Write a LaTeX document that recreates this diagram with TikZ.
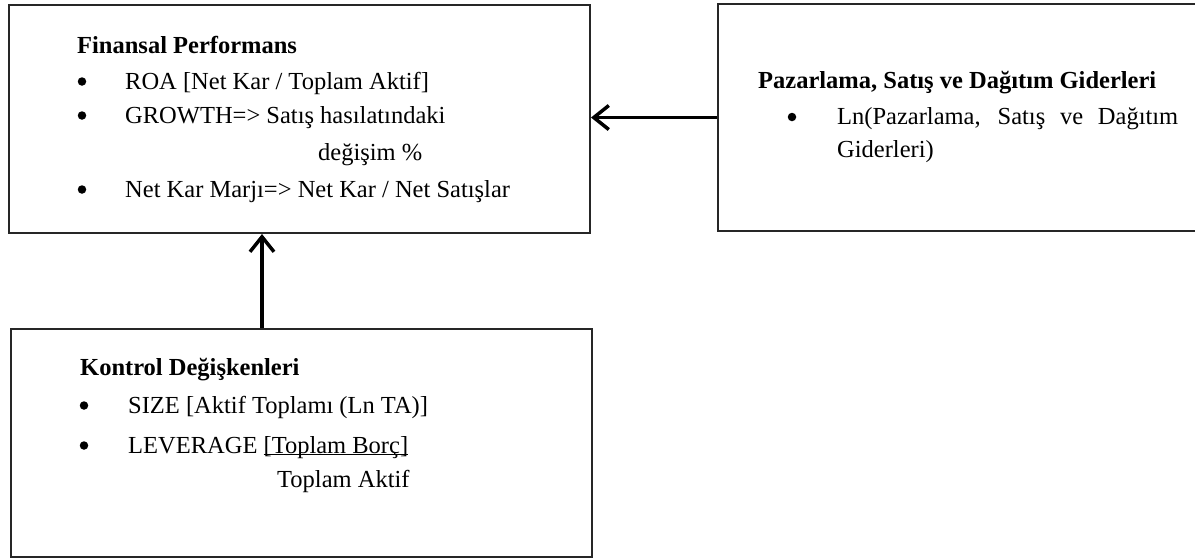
\documentclass[tikz,border=0pt]{standalone}
\usepackage{fontspec}
\setmainfont{Liberation Serif}
\usetikzlibrary{arrows.meta}
\begin{document}
\begin{tikzpicture}[x=1pt,y=-1pt,
  font=\fontsize{24.5}{30}\selectfont,
  panel/.style={draw=black!85,line width=2pt,rectangle,inner sep=0pt,anchor=north west},
  txt/.style={anchor=base west,inner sep=0pt},
  bul/.style={circle,fill=black,draw=none,inner sep=0pt,minimum size=8.5pt},
  head/.style={anchor=base west,inner sep=0pt,font=\fontsize{24.5}{30}\selectfont\bfseries},
  arr/.style={line width=3.5pt,-{Straight Barb[length=15pt,width=24pt,line width=3.5pt]}}]
\fill[white] (0,0) rectangle (1195,558);
\useasboundingbox (0,0) rectangle (1195,558);

% boxes
\node[panel,minimum width=581pt,minimum height=228pt] (fin) at (8,4) {};
\node[panel,minimum width=480pt,minimum height=227pt] (paz) at (717,3) {};
\node[panel,minimum width=581pt,minimum height=228pt] (kon) at (10,328) {};

% Finansal Performans
\node[head] (finh) at (77,53) {Finansal Performans};
\node[bul] (fb1) at (82,81.5) {};
\node[txt] (ft1) at (125,89) {ROA [Net Kar / Toplam Aktif]};
\node[bul] (fb2) at (82,115.5) {};
\node[txt] (ft2) at (125,123) {GROWTH=> Satış hasılatındaki};
\node[txt] (ft3) at (318,160) {değişim \%};
\node[bul] (fb3) at (82,189.5) {};
\node[txt] (ft4) at (125,197) {Net Kar Marjı=> Net Kar / Net Satışlar};

% Pazarlama
\node[head] (pazh) at (758,88) {Pazarlama, Satış ve Dağıtım Giderleri};
\node[bul] (pb1) at (792,117) {};
\node[txt] (pt1) at (837,124) {\makebox[341pt][s]{Ln(Pazarlama, Satış ve Dağıtım}};
\node[txt] (pt2) at (837,157) {Giderleri)};

% Kontrol
\node[head] (konh) at (80,375) {Kontrol Değişkenleri};
\node[bul] (kb1) at (84,405.5) {};
\node[txt] (kt1) at (128,413) {SIZE [Aktif Toplamı (Ln TA)]};
\node[bul] (kb2) at (84,445.5) {};
\node[txt] (kt2) at (128,453) {LEVERAGE \underline{\smash{[Toplam Borç]}}};
\node[txt] (kt3) at (277,487) {Toplam Aktif};

% arrows
\draw[arr] (paz.west) -- (paz.west -| fin.east);
\draw[arr] ([xshift=252pt]kon.north west) -- ([xshift=254pt]fin.south west);
\end{tikzpicture}
\end{document}
